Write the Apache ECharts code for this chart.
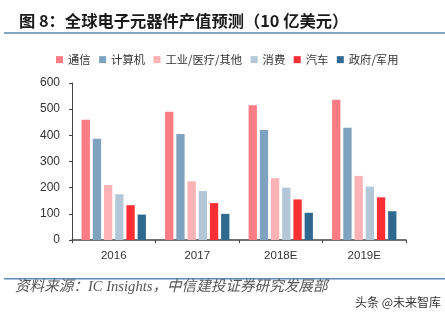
<!DOCTYPE html>
<html>
<head>
<meta charset="utf-8">
<script src="https://cdn.jsdelivr.net/npm/echarts@6/dist/echarts.min.js"></script>
<style>
  html, body { margin: 0; padding: 0; background: #fff; }
  #chart { width: 445px; height: 323px; }
</style>
</head>
<body>
<div id="chart"></div>
<script>
// 全球电子元器件产值预测（单位：10 亿美元）
const years = ['2016', '2017', '2018E', '2019E'];
const telecom    = [460, 490, 515, 536];   // 通信
const computer   = [387, 405, 420, 429];   // 计算机
const industrial = [210, 224, 236, 245];   // 工业/医疗/其他
const consumer   = [175, 187, 200, 204];   // 消费
const auto       = [133, 141, 155, 163];   // 汽车
const government = [97, 100, 104, 110];    // 政府/军用
const yTicks = [0, 100, 200, 300, 400, 500, 600];

const seriesDefs = [
  { name: '通信', data: telecom, color: '#fb7c82' },
  { name: '计算机', data: computer, color: '#7fa3bf' },
  { name: '工业/医疗/其他', data: industrial, color: '#fdb2b5' },
  { name: '消费', data: consumer, color: '#b2c8d9' },
  { name: '汽车', data: auto, color: '#fa2f35' },
  { name: '政府/军用', data: government, color: '#2f6990' }
];

const cjk = '"Noto Sans CJK SC", "Liberation Sans", sans-serif';
const chart = echarts.init(document.getElementById('chart'), null, { renderer: 'canvas' });

chart.setOption({
  backgroundColor: '#ffffff',
  animation: false,
  title: {
    text: '图 8：全球电子元器件产值预测（10 亿美元）',
    left: 14,
    top: 8,
    textStyle: { fontFamily: cjk, fontSize: 16.3, fontWeight: 'bold', color: '#1a1a1a' }
  },
  legend: {
    top: 49,
    left: 51,
    itemWidth: 7,
    itemHeight: 7,
    itemGap: 8.5,
    icon: 'rect',
    textStyle: { fontFamily: cjk, fontSize: 11.3, color: '#333' },
    data: seriesDefs.map(s => s.name)
  },
  grid: { left: 72, right: 39, top: 83, bottom: 83, containLabel: false },
  xAxis: {
    type: 'category',
    data: years,
    axisLine: { lineStyle: { color: '#444', width: 1.5 } },
    axisTick: { show: true, length: 3, lineStyle: { color: '#444' } },
    axisLabel: { fontFamily: '"Liberation Sans", Arial, sans-serif', fontSize: 11.5, color: '#333', margin: 10 }
  },
  yAxis: {
    type: 'value',
    min: yTicks[0],
    max: yTicks[yTicks.length - 1],
    interval: yTicks[1] - yTicks[0],
    axisLine: { show: true, lineStyle: { color: '#444', width: 1 } },
    axisTick: { show: true, length: 3, lineStyle: { color: '#444' } },
    splitLine: { show: false },
    axisLabel: { fontFamily: '"Liberation Sans", Arial, sans-serif', fontSize: 12, color: '#333', margin: 12 }
  },
  series: seriesDefs.map(s => ({
    name: s.name,
    type: 'bar',
    data: s.data,
    barWidth: 8.3,
    barGap: '35%',
    itemStyle: { color: s.color }
  })),
  graphic: [
    {
      type: 'line',
      shape: { x1: 4, y1: 33, x2: 445, y2: 33 },
      style: { stroke: '#5b8ab5', lineWidth: 1.5 }
    },
    {
      type: 'line',
      shape: { x1: 4, y1: 278.7, x2: 445, y2: 278.7 },
      style: { stroke: '#5b8ab5', lineWidth: 1.5 }
    },
    {
      type: 'text',
      left: 15,
      top: 280,
      style: {
        text: '资料来源：IC Insights，中信建投证券研究发展部',
        font: 'italic 14.6px "Liberation Serif", "Noto Sans CJK SC", serif',
        fill: '#555'
      }
    },
    {
      type: 'text',
      left: 355,
      top: 296,
      style: {
        text: '头条 @未来智库',
        font: '12px "Noto Sans CJK SC", sans-serif',
        fill: '#333'
      }
    }
  ]
});
</script>
</body>
</html>
